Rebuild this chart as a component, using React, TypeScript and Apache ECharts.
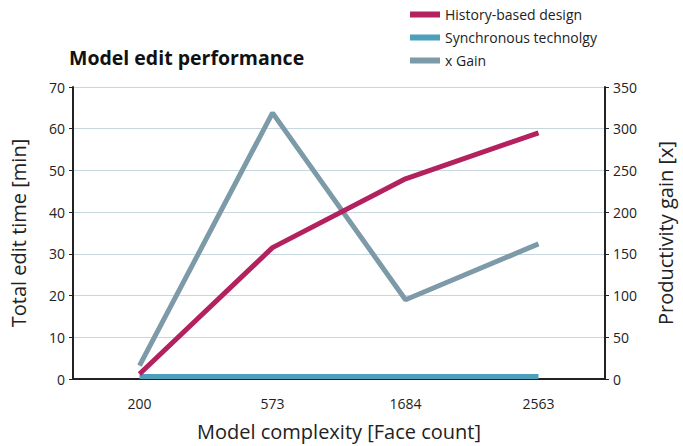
import React, { useEffect, useRef } from "react";
import * as echarts from "echarts";

const categories = ["200", "573", "1684", "2563"];
const historyBased = [1.2, 31.5, 48, 59];
const synchronous = [0.6, 0.6, 0.6, 0.6];
const xGain = [16, 319, 95, 162];

const FONT = "Open Sans";

export default function App() {
  const ref = useRef<HTMLDivElement>(null);
  useEffect(() => {
    const chart = echarts.init(ref.current!, undefined, { renderer: "svg" });
    chart.setOption({
      animation: false,
      textStyle: { fontFamily: FONT },
      title: {
        text: "Model edit performance",
        left: 64,
        top: 42,
        textStyle: { fontFamily: FONT, fontSize: 19.5, fontWeight: "bold", color: "#111" },
      },
      legend: {
        orient: "vertical",
        left: 405,
        top: 0,
        itemWidth: 30,
        itemHeight: 6,
        itemGap: 4,
        icon: "rect",
        textStyle: { fontFamily: FONT, fontSize: 14, color: "#222", lineHeight: 19 },
        data: ["History-based design", "Synchronous technolgy", "x Gain"],
      },
      grid: { left: 71, right: 77, top: 87, bottom: 65 },
      xAxis: {
        type: "category",
        data: categories,
        boundaryGap: true,
        name: "Model complexity [Face count]",
        nameLocation: "middle",
        nameGap: 42,
        nameTextStyle: { fontFamily: FONT, fontSize: 20, color: "#222" },
        axisLine: { lineStyle: { color: "#222", width: 2 } },
        axisTick: { show: false },
        axisLabel: { fontFamily: FONT, fontSize: 14, color: "#222", margin: 17 },
      },
      yAxis: [
        {
          type: "value",
          min: 0,
          max: 70,
          interval: 10,
          name: "Total edit time [min]",
          nameLocation: "middle",
          nameGap: 45,
          nameTextStyle: { fontFamily: FONT, fontSize: 20, color: "#222" },
          axisLine: { show: true, lineStyle: { color: "#222", width: 2 } },
          axisTick: { show: true, length: 4, lineStyle: { color: "#222" } },
          axisLabel: { fontFamily: FONT, fontSize: 14, color: "#222", margin: 8 },
          splitLine: { show: true, lineStyle: { color: "#c8d6de", width: 1 } },
        },
        {
          type: "value",
          min: 0,
          max: 350,
          interval: 50,
          name: "Productivity gain [x]",
          nameLocation: "middle",
          nameGap: 50,
          nameTextStyle: { fontFamily: FONT, fontSize: 20, color: "#222" },
          axisLine: { show: true, lineStyle: { color: "#222", width: 2 } },
          axisTick: { show: true, length: 4, lineStyle: { color: "#222" } },
          axisLabel: { fontFamily: FONT, fontSize: 14, color: "#222", margin: 8 },
          splitLine: { show: false },
        },
      ],
      series: [
        {
          name: "History-based design",
          type: "line",
          data: historyBased,
          yAxisIndex: 0,
          symbol: "none",
          color: "#b3215f",
          lineStyle: { width: 5, color: "#b3215f" },
          z: 3,
        },
        {
          name: "Synchronous technolgy",
          type: "line",
          data: synchronous,
          yAxisIndex: 0,
          symbol: "none",
          color: "#4d9fba",
          lineStyle: { width: 5, color: "#4d9fba" },
          z: 2,
        },
        {
          name: "x Gain",
          type: "line",
          data: xGain,
          yAxisIndex: 1,
          symbol: "none",
          color: "#7d9aa8",
          lineStyle: { width: 5, color: "#7d9aa8" },
          z: 2,
        },
      ],
    });
    return () => chart.dispose();
  }, []);
  return (
    <div
      ref={ref}
      style={{ position: "fixed", left: 0, top: 0, width: 683, height: 446, background: "#fff" }}
    />
  );
}
